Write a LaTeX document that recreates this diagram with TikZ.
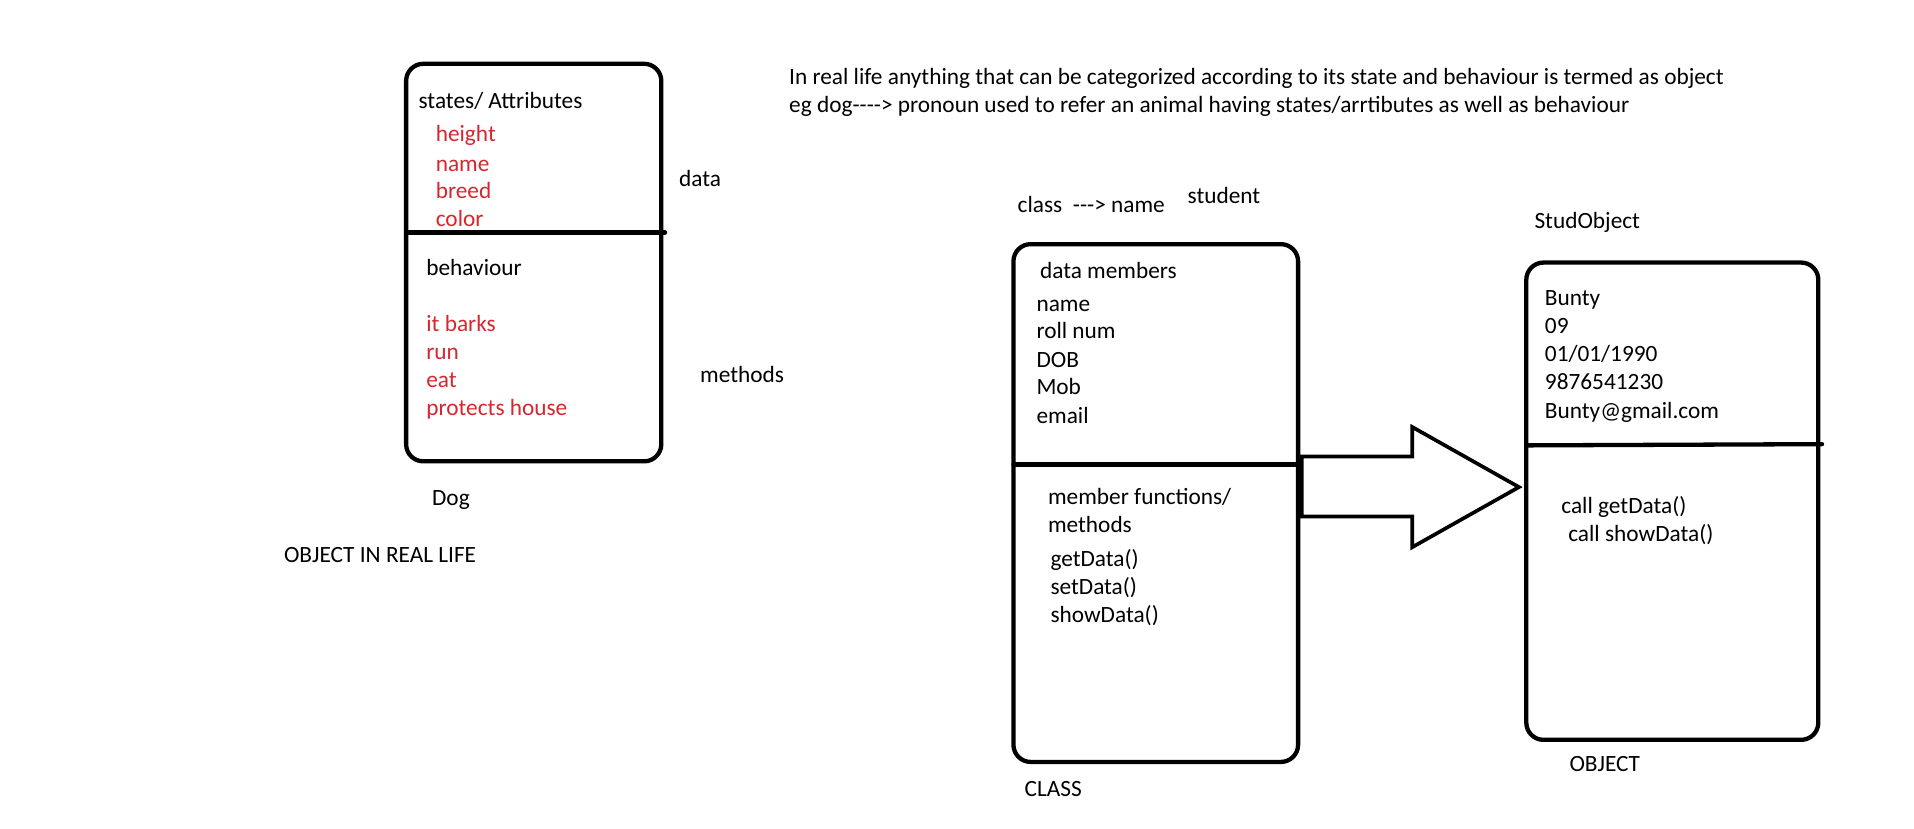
\documentclass[tikz,border=0pt]{standalone}
\usepackage{fontspec}
\setmainfont{Carlito}
\definecolor{attrred}{RGB}{215,38,46}
\begin{document}
\begin{tikzpicture}[x=1pt,y=-1pt,
    box/.style={line width=3.5pt,rounded corners=14pt},
    divider/.style={line width=3.5pt,line cap=round},
    txt/.style={anchor=base west,inner sep=0pt,font=\fontsize{19}{23}\selectfont},
    redtxt/.style={txt,text=attrred}]
  \useasboundingbox (0,0) rectangle (1560,675);
  % real life object
  \draw[box] (331,52) rectangle (539,376);
  \draw[divider] (331,189.5) -- (542,189.5);
  \node[txt] (states) at (341,88.3) {states/ Attributes};
  \node[redtxt] (height) at (355,115.5) {height};
  \node[redtxt] (dname) at (355,139.4) {name};
  \node[redtxt] (breed) at (355,161.7) {breed};
  \node[redtxt] (color) at (355,184.8) {color};
  \node[txt] (behav) at (347.3,224.7) {behaviour};
  \node[redtxt] (barks) at (347.3,269.8) {it barks};
  \node[redtxt] (run) at (347.3,292.9) {run};
  \node[redtxt] (eat) at (347.3,315.7) {eat};
  \node[redtxt] (protects) at (347.3,338.8) {protects house};
  \node[txt] (data) at (553.3,151.6) {data};
  \node[txt] (methods) at (570.5,311.6) {methods};
  \node[txt] (dog) at (352,411.6) {Dog};
  \node[txt] (reallife) at (231.3,458.5) {OBJECT IN REAL LIFE};
  % definition
  \node[txt] (defn1) at (643,68.5) {In real life anything that can be categorized according to its state and behaviour is termed as object};
  \node[txt] (defn2) at (643,91.5) {eg dog-{}-{}-{}-> pronoun used to refer an animal having states/arrtibutes as well as behaviour};
  % class
  \draw[box] (826,199) rectangle (1058,621);
  \draw[divider] (826,378.5) -- (1058,378.5);
  \node[txt] (classname) at (829.3,172.9) {class\ \ -{}-{}-> name};
  \node[txt] (student) at (967.8,166) {student};
  \node[txt] (members) at (847.5,227.3) {data members};
  \node[txt] (cname) at (844.6,253.7) {name};
  \node[txt] (roll) at (844.6,276.1) {roll num};
  \node[txt] (dob) at (844.6,299.2) {DOB};
  \node[txt] (mob) at (844.6,321.9) {Mob};
  \node[txt] (email) at (844.6,344.9) {email};
  \node[txt] (funcs) at (854,411.3) {member functions/};
  \node[txt] (cmethods) at (854,433.7) {methods};
  \node[txt] (getdata) at (856,461.9) {getData()};
  \node[txt] (setdata) at (856,484.2) {setData()};
  \node[txt] (showdata) at (856,507.3) {showData()};
  \node[txt] (classlbl) at (835,649.3) {CLASS};
  % block arrow
  \draw[line width=3pt,line join=miter] (1061,372) -- (1151,372) -- (1151,348) -- (1238,397)
    -- (1151,446) -- (1151,421) -- (1061,421) -- cycle;
  % object
  \draw[box] (1244,214) rectangle (1482,603);
  \draw[divider] (1244,363) -- (1485,362);
  \node[txt] (studobj) at (1250.5,186) {StudObject};
  \node[txt] (bunty) at (1259,249.3) {Bunty};
  \node[txt] (roll09) at (1259,272) {09};
  \node[txt] (dobval) at (1259,295) {01/01/1990};
  \node[txt] (mobval) at (1259,317.4) {9876541230};
  \node[txt] (mail) at (1259,340.8) {Bunty@gmail.com};
  \node[txt] (callget) at (1272.4,418.9) {call getData()};
  \node[txt] (callshow) at (1278,441.2) {call showData()};
  \node[txt] (objlbl) at (1279,628.7) {OBJECT};
\end{tikzpicture}
\end{document}
